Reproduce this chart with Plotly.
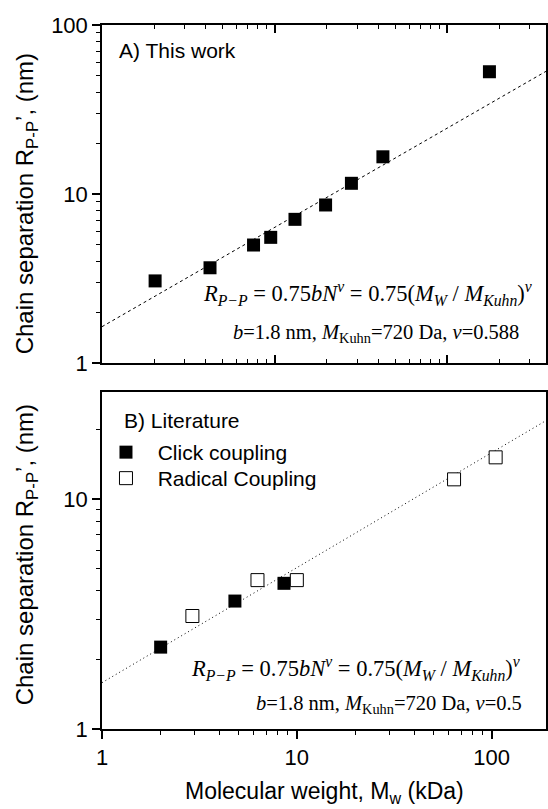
import plotly.graph_objects as go
import math

# ---------------- data ----------------
# Panel A: this work
a_mw = [2.03, 4.22, 7.54, 9.48, 13.1, 19.7, 27.8, 42.3, 175]
a_rpp = [3.06, 3.66, 4.99, 5.54, 7.08, 8.61, 11.57, 16.6, 52.9]
a_fit_x = [1, 400]
a_fit_y = [1.64, 55.5]

# Panel B: literature
click_mw = [2.00, 4.81, 8.59]
click_rpp = [2.27, 3.60, 4.30]
radical_mw = [2.91, 6.28, 10.0, 64.1, 104.8]
radical_rpp = [3.10, 4.44, 4.44, 12.18, 15.18]
b_fit_x = [1, 200]
b_fit_y = [1.59, 22.5]

major_ticks = [1, 10, 100]
major_labels = ["1", "10", "100"]
minor_x_top = [2, 3, 4, 5, 6, 7, 8, 9, 20, 30, 40, 50, 60, 70, 80, 90, 200, 300]
minor_x_bot = [2, 3, 4, 5, 6, 7, 8, 9, 20, 30, 40, 50, 60, 70, 80, 90]
minor_y_top = [2, 3, 4, 5, 6, 7, 8, 9, 20, 30, 40, 50, 60, 70, 80, 90]
minor_y_bot = [2, 3, 4, 5, 6, 7, 8, 9, 20]

SANS = "Liberation Sans, Arial, sans-serif"
SERIF = "Liberation Serif, Times New Roman, serif"

W, H = 548, 809
ML, MR, MT, MB = 102, 0, 25, 80
PH = H - MT - MB  # 704

def py(pix):  # pixel y -> paper y
    return (H - MB - pix) / PH

def px(pix):  # pixel x -> paper x
    return (pix - ML) / (W - ML - MR)

top_dom = [py(363), 1.0]
bot_dom = [0.0, py(392)]

fig = go.Figure()

# Panel A
fig.add_trace(go.Scatter(x=a_fit_x, y=a_fit_y, mode="lines", xaxis="x", yaxis="y",
                         line=dict(color="black", width=1, dash="3px,3px"), showlegend=False))
fig.add_trace(go.Scatter(x=a_mw, y=a_rpp, mode="markers", xaxis="x", yaxis="y",
                         marker=dict(symbol="square", size=13, color="black"), showlegend=False))
# Panel B
fig.add_trace(go.Scatter(x=b_fit_x, y=b_fit_y, mode="lines", xaxis="x2", yaxis="y2",
                         line=dict(color="black", width=1, dash="1px,3px"), showlegend=False))
fig.add_trace(go.Scatter(x=click_mw, y=click_rpp, mode="markers", xaxis="x2", yaxis="y2",
                         name="\u00a0\u00a0Click coupling", legend="legend",
                         marker=dict(symbol="square", size=13, color="black")))
fig.add_trace(go.Scatter(x=radical_mw, y=radical_rpp, mode="markers", xaxis="x2", yaxis="y2",
                         name="\u00a0\u00a0Radical Coupling", legend="legend2",
                         marker=dict(symbol="square", size=13, color="white",
                                     line=dict(color="black", width=1))))

tickfont = dict(family=SANS, size=22, color="black")
common = dict(type="log", showgrid=False, zeroline=False, color="black",
              linecolor="black", linewidth=1.5, tickwidth=1.5, tickcolor="black",
              tickfont=tickfont)

def minor(vals, side):
    return dict(tickvals=vals, ticks=side, ticklen=4, tickwidth=1.2, tickcolor="black", showgrid=False)

xr_top = [0, math.log10(372)]
xr_bot = [0, math.log10(190)]
yr_top = [0, 2]
yr_bot = [0, math.log10(29.2)]

legfont = dict(family=SANS, size=21, color="black")
fig.update_layout(
    width=W, height=H,
    margin=dict(l=ML, r=MR, t=MT, b=MB),
    paper_bgcolor="white", plot_bgcolor="white",
    font=dict(family=SANS, color="black"),
    showlegend=True,
    legend=dict(x=px(106), y=py(432), xanchor="left", yanchor="top", font=legfont,
                bgcolor="rgba(0,0,0,0)", borderwidth=0),
    legend2=dict(x=px(106), y=py(458), xanchor="left", yanchor="top", font=legfont,
                 bgcolor="rgba(0,0,0,0)", borderwidth=0),
    # top panel
    xaxis=dict(**common, domain=[0, 1], anchor="y", range=xr_top, ticks="inside", ticklen=8,
               tickvals=major_ticks, showticklabels=False, showline=True, mirror="ticks",
               minor=minor(minor_x_top, "inside")),
    yaxis=dict(**common, domain=top_dom, anchor="x", range=yr_top, ticks="outside", ticklen=8,
               tickvals=major_ticks, ticktext=major_labels, showline=True, mirror=True,
               minor=minor(minor_y_top, "outside")),
    yaxis3=dict(**common, overlaying="y", side="right", anchor="x", range=yr_top, ticks="inside",
                ticklen=8, tickvals=major_ticks, showticklabels=False, showline=False,
                minor=minor(minor_y_top, "inside")),
    # bottom panel
    xaxis2=dict(**common, domain=[0, 1], anchor="y2", range=xr_bot, ticks="outside", ticklen=8,
                tickvals=major_ticks, ticktext=major_labels, showline=True, mirror=True,
                minor=minor(minor_x_bot, "outside")),
    xaxis4=dict(**common, overlaying="x2", side="top", anchor="y2", range=xr_bot, ticks="inside",
                ticklen=8, tickvals=major_ticks, showticklabels=False, showline=False,
                minor=minor(minor_x_bot, "inside")),
    yaxis2=dict(**common, domain=bot_dom, anchor="x2", range=yr_bot, ticks="outside", ticklen=8,
                tickvals=major_ticks[:2], ticktext=major_labels[:2], showline=True, mirror=True,
                minor=minor(minor_y_bot, "outside")),
    yaxis4=dict(**common, overlaying="y2", side="right", anchor="x2", range=yr_bot, ticks="inside",
                ticklen=8, tickvals=major_ticks[:2], showticklabels=False, showline=False,
                minor=minor(minor_y_bot, "inside")),
)

ytitle = "Chain separation R<sub>P-P</sub>\u2019, (nm)"
ann = []
ann.append(dict(text=ytitle, x=px(26), y=py(204), textangle=-90, font=dict(family=SANS, size=24)))
ann.append(dict(text=ytitle, x=px(26), y=py(555), textangle=-90, font=dict(family=SANS, size=24)))
ann.append(dict(text="Molecular weight, M<sub>w</sub> (kDa)", x=px(326), y=py(792),
                font=dict(family=SANS, size=23)))
ann.append(dict(text="A) This work", x=px(117), y=py(50), xanchor="left", font=dict(family=SANS, size=21)))
ann.append(dict(text="B) Literature", x=px(122), y=py(420), xanchor="left", font=dict(family=SANS, size=21)))

eq1 = ("<i>R</i><sub><i>P\u2212P</i></sub> = 0.75<i>bN</i><sup><i>\u03bd</i></sup> = "
       "0.75(<i>M</i><sub><i>W</i></sub> / <i>M</i><sub><i>Kuhn</i></sub>)<sup><i>\u03bd</i></sup>")
eq2a = "<i>b</i>=1.8 nm, <i>M</i><sub>Kuhn</sub>=720 Da, <i>\u03bd</i>=0.588"
eq2b = "<i>b</i>=1.8 nm, <i>M</i><sub>Kuhn</sub>=720 Da, <i>\u03bd</i>=0.5"
ann.append(dict(text=eq1, x=px(201), y=py(293), xanchor="left", font=dict(family=SERIF, size=22.5)))
ann.append(dict(text=eq2a, x=px(232), y=py(333), xanchor="left", font=dict(family=SERIF, size=20.5)))
ann.append(dict(text=eq1, x=px(189), y=py(668), xanchor="left", font=dict(family=SERIF, size=22.5)))
ann.append(dict(text=eq2b, x=px(255), y=py(704), xanchor="left", font=dict(family=SERIF, size=20.5)))

for a in ann:
    a.setdefault("xanchor", "center")
    a.update(xref="paper", yref="paper", yanchor="middle", showarrow=False)
    a["font"]["color"] = "black"
fig.update_layout(annotations=ann)

fig.write_html("out.html")
